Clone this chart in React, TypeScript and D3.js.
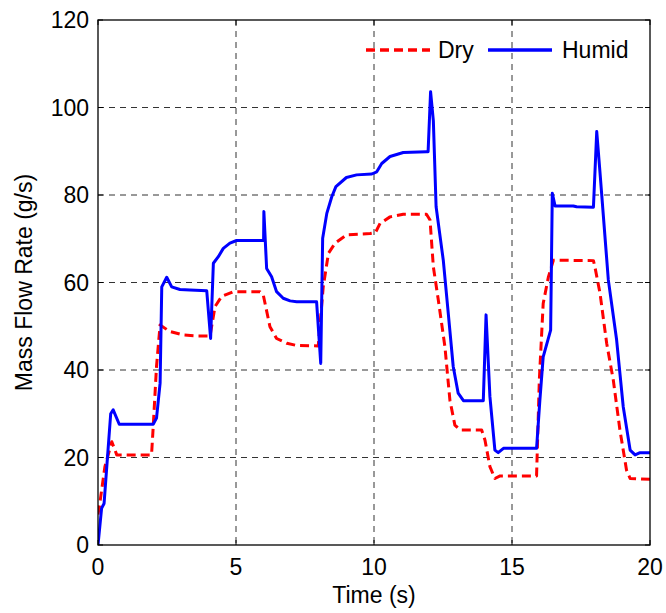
import React from "react";
import * as d3 from "d3";

const xTicks = [0, 5, 10, 15, 20];
const yTicks = [0, 20, 40, 60, 80, 100, 120];
const seriesNames = ["Dry", "Humid"];

const dryT = [0, 0.05, 0.25, 0.5, 0.68, 1.94, 2.0, 2.12, 2.25, 2.6, 3.09, 3.58, 4.06, 4.24, 4.48, 4.9, 5.87, 5.99, 6.23, 6.47, 6.84, 7.2, 7.98, 8.16, 8.35, 8.59, 9.01, 9.86, 10.05, 10.22, 10.58, 11.06, 11.9, 12.03, 12.15, 12.33, 12.57, 12.75, 12.93, 13.12, 13.9, 14.02, 14.2, 14.38, 14.57, 15.89, 15.99, 16.13, 16.32, 16.5, 17.95, 18.0, 18.19, 18.43, 18.67, 18.91, 19.15, 19.28, 20];
const dryV = [7, 8.8, 17.9, 23.6, 20.6, 20.6, 27, 40.8, 50.3, 48.8, 48, 47.8, 47.8, 54.5, 56.8, 57.9, 57.9, 57.1, 49.9, 47.2, 46.1, 45.6, 45.5, 59, 66.7, 69, 70.9, 71.2, 71.4, 73.5, 75, 75.6, 75.6, 74.3, 63.6, 56, 45.3, 33.1, 27.4, 26.3, 26.3, 24, 17.9, 15.2, 15.8, 15.8, 37.7, 55.2, 61.3, 65.1, 65, 63.7, 57.5, 46.1, 37.7, 26.3, 17.1, 15.2, 15];

const humidT = [0, 0.13, 0.22, 0.46, 0.55, 0.77, 2.0, 2.12, 2.25, 2.31, 2.49, 2.67, 2.97, 3.33, 3.94, 4.08, 4.18, 4.36, 4.54, 4.78, 5.02, 6.0, 6.01, 6.11, 6.29, 6.47, 6.71, 6.96, 7.2, 7.92, 8.07, 8.14, 8.29, 8.47, 8.62, 9.0, 9.37, 9.92, 10.1, 10.28, 10.58, 11.06, 11.9, 11.96, 12.05, 12.15, 12.25, 12.51, 12.69, 12.87, 13.05, 13.24, 13.96, 14.06, 14.2, 14.38, 14.5, 14.69, 15.89, 16.01, 16.13, 16.4, 16.46, 16.56, 17.22, 17.34, 17.95, 18.07, 18.19, 18.49, 18.79, 19.03, 19.28, 19.46, 19.64, 20];
const humidV = [0, 8.4, 9.5, 30, 30.9, 27.6, 27.6, 29, 37, 59, 61.2, 59, 58.4, 58.3, 58.1, 47.2, 64.4, 65.9, 67.8, 69, 69.6, 69.6, 76.2, 63.2, 61.3, 57.9, 56.4, 55.8, 55.6, 55.6, 41.5, 70.1, 75.8, 79.6, 81.9, 84, 84.6, 84.8, 85.3, 87.2, 88.8, 89.7, 89.9, 89.9, 103.6, 97, 77.3, 65.1, 53, 40.8, 34.7, 33, 33, 52.6, 33.9, 21.7, 21.1, 22.1, 22.1, 33.1, 43, 49.1, 80.4, 77.5, 77.5, 77.3, 77.2, 94.5, 85, 60.6, 46.9, 31.6, 21.7, 20.6, 21.1, 21.1];

export default function App() {
  const W = 666, H = 613;
  const L = 98, R = 650, T = 20, B = 545;
  const x = d3.scaleLinear().domain([0, 20]).range([L, R]);
  const y = d3.scaleLinear().domain([0, 120]).range([B, T]);
  const line = d3.line<[number, number]>().x(d => x(d[0])).y(d => y(d[1]));
  const dry = dryT.map((t, i) => [t, dryV[i]] as [number, number]);
  const humid = humidT.map((t, i) => [t, humidV[i]] as [number, number]);
  const font = "Liberation Sans, Arial, sans-serif";
  const fs = 23;
  return (
    <svg width={W} height={H} style={{ position: "absolute", left: 0, top: 0 }} fontFamily={font}>
      <rect x={0} y={0} width={W} height={H} fill="white" />
      <defs>
        <clipPath id="clip"><rect x={L} y={T} width={R - L} height={B - T} /></clipPath>
      </defs>
      {xTicks.slice(1, -1).map(t => (
        <line key={"gx" + t} x1={x(t)} x2={x(t)} y1={T} y2={B} stroke="#333" strokeWidth={1} strokeDasharray="6,5" />
      ))}
      {yTicks.slice(1, -1).map(t => (
        <line key={"gy" + t} x1={L} x2={R} y1={y(t)} y2={y(t)} stroke="#333" strokeWidth={1} strokeDasharray="6,5" />
      ))}
      <g clipPath="url(#clip)">
        <path d={line(dry) || ""} fill="none" stroke="#ff0000" strokeWidth={3} strokeDasharray="9,5" strokeLinejoin="round" />
        <path d={line(humid) || ""} fill="none" stroke="#0000ff" strokeWidth={3} strokeLinejoin="round" />
      </g>
      <rect x={L} y={T} width={R - L} height={B - T} fill="none" stroke="black" strokeWidth={1.3} />
      {xTicks.map(t => (
        <g key={"tx" + t}>
          <line x1={x(t)} x2={x(t)} y1={B} y2={B - 5} stroke="black" />
          <line x1={x(t)} x2={x(t)} y1={T} y2={T + 5} stroke="black" />
          <text x={x(t)} y={575} textAnchor="middle" fontSize={fs}>{t}</text>
        </g>
      ))}
      {yTicks.map(t => (
        <g key={"ty" + t}>
          <line x1={L} x2={L + 5} y1={y(t)} y2={y(t)} stroke="black" />
          <line x1={R} x2={R - 5} y1={y(t)} y2={y(t)} stroke="black" />
          <text x={89} y={y(t) + 8} textAnchor="end" fontSize={fs}>{t}</text>
        </g>
      ))}
      <text x={(L + R) / 2} y={603} textAnchor="middle" fontSize={fs}>Time (s)</text>
      <text transform={`translate(32,${(T + B) / 2}) rotate(-90)`} textAnchor="middle" fontSize={fs}>Mass Flow Rate (g/s)</text>
      <g>
        <line x1={366} x2={430} y1={50} y2={50} stroke="#ff0000" strokeWidth={3.5} strokeDasharray="9,5" />
        <text x={438} y={58} fontSize={fs}>{seriesNames[0]}</text>
        <line x1={488} x2={552} y1={50} y2={50} stroke="#0000ff" strokeWidth={3.5} />
        <text x={562} y={58} fontSize={fs}>{seriesNames[1]}</text>
      </g>
    </svg>
  );
}
